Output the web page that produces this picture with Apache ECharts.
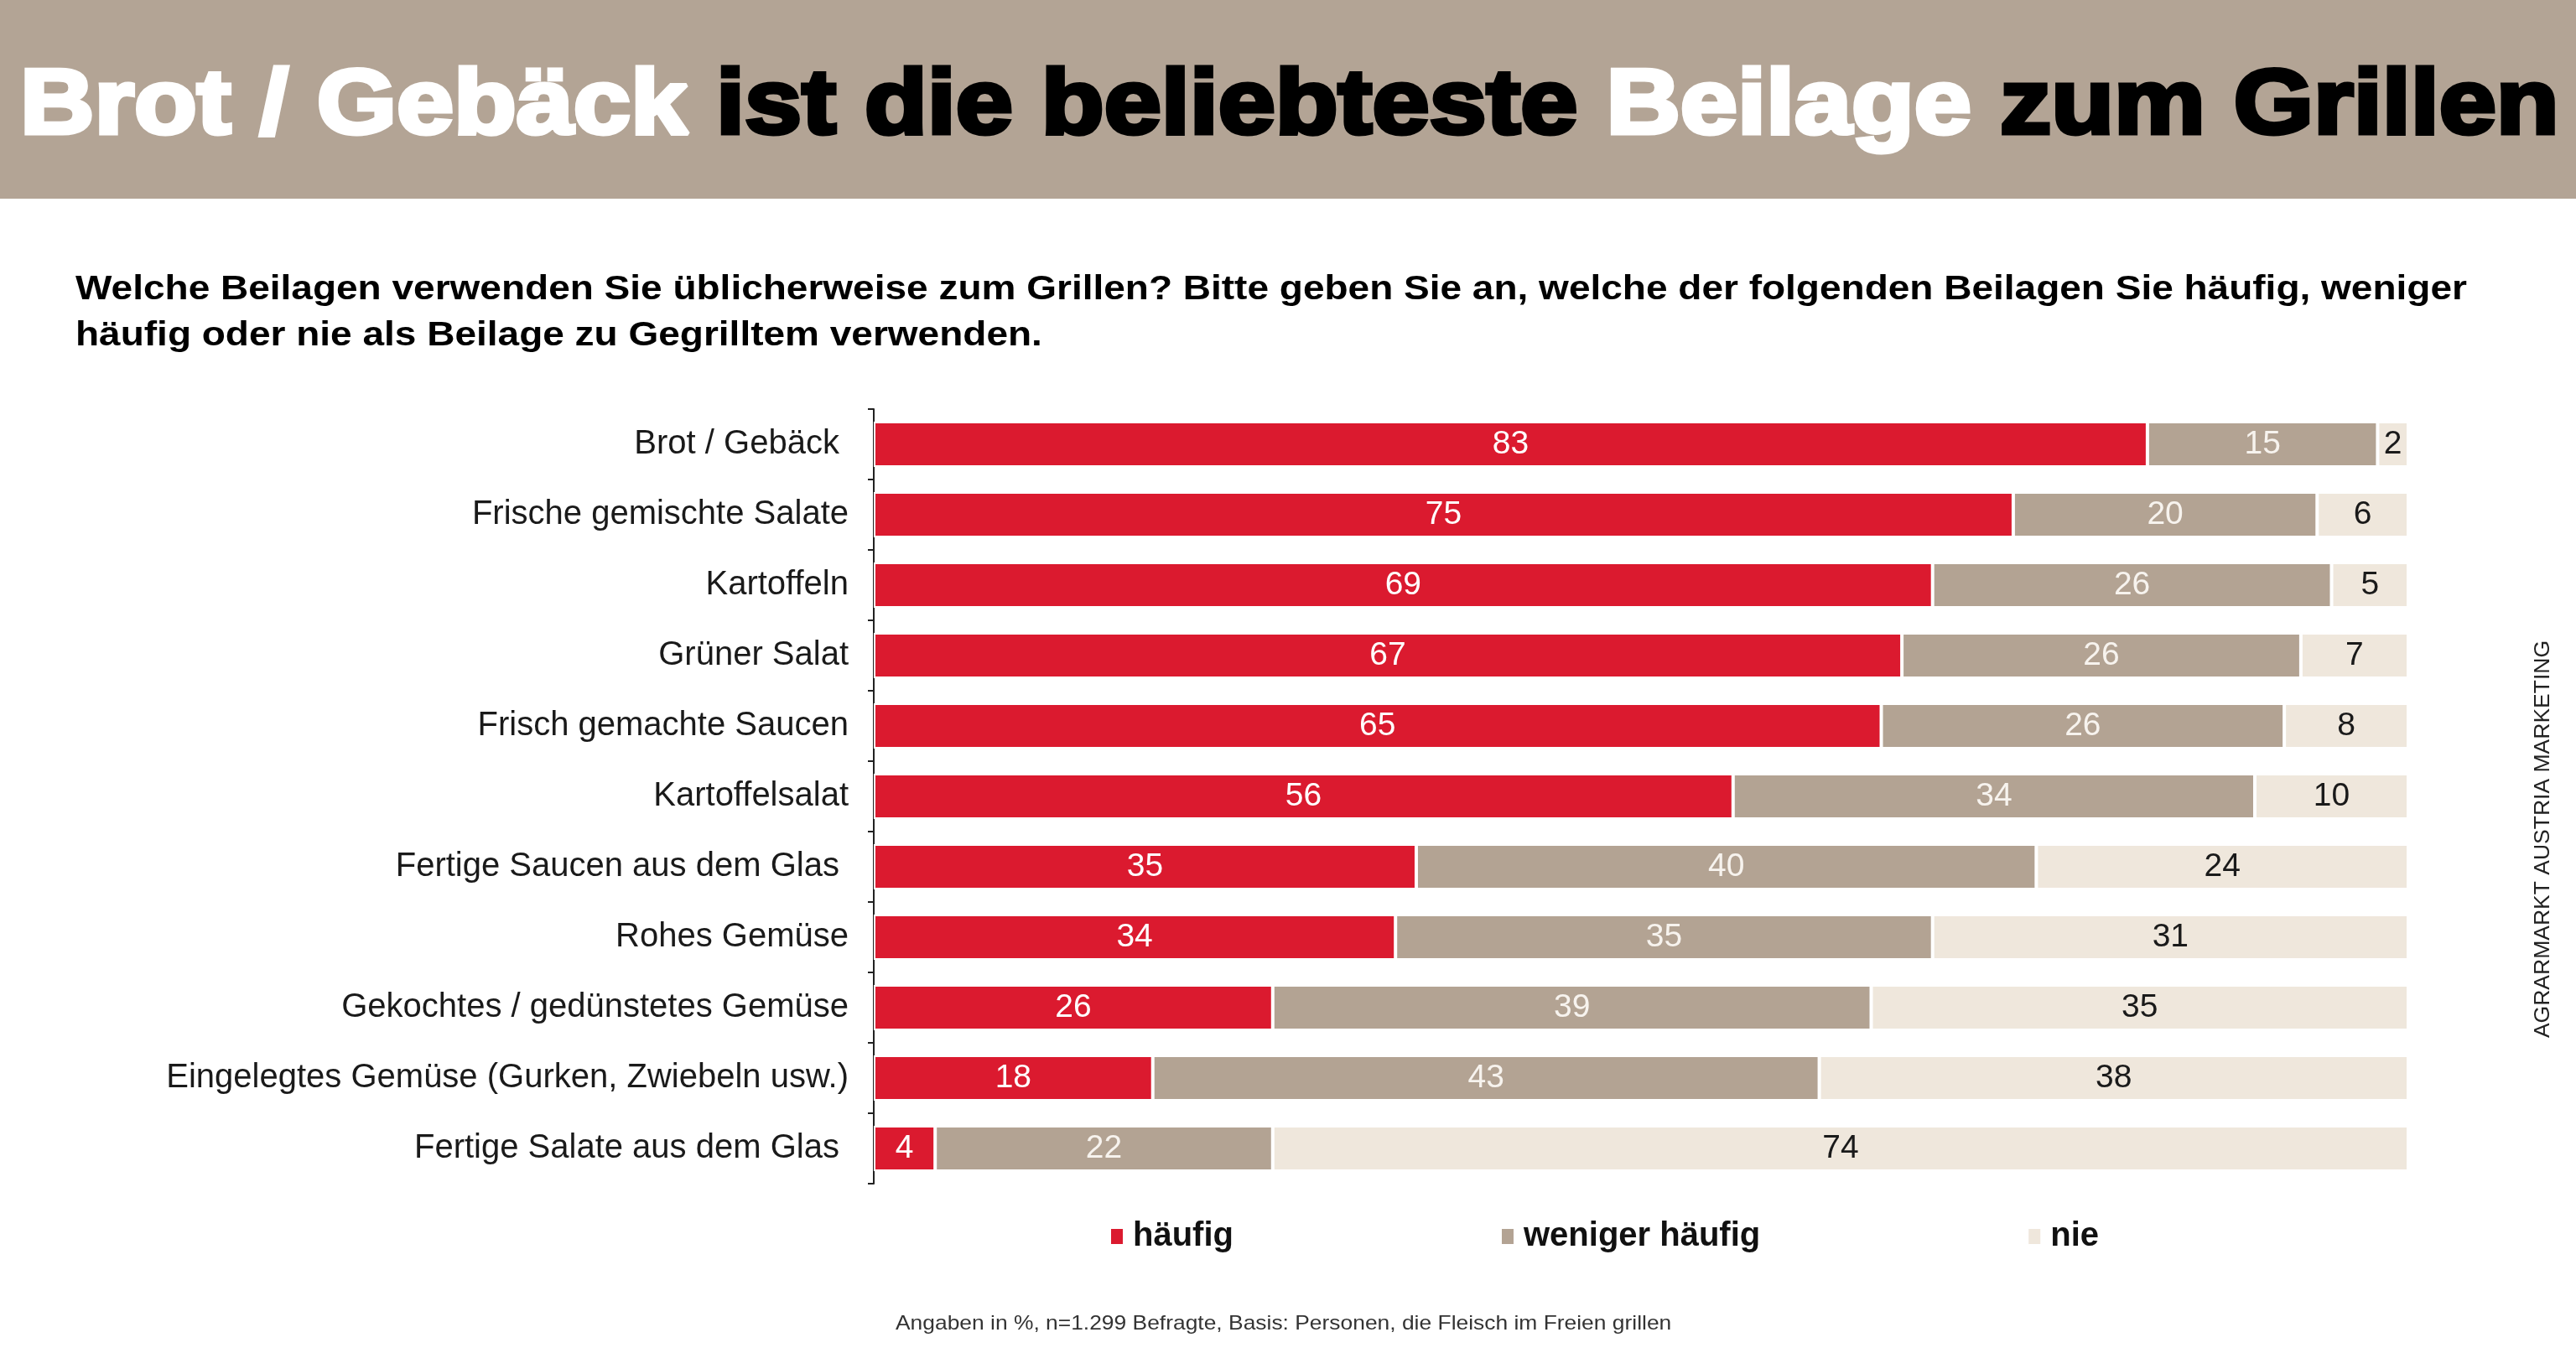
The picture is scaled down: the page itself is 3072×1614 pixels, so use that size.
<!DOCTYPE html>
<html>
<head>
<meta charset="utf-8">
<script src="https://cdn.jsdelivr.net/npm/echarts@6/dist/echarts.min.js"></script>
<style>
html,body{margin:0;padding:0;background:#fff}
#chart{width:3072px;height:1614px}
</style>
</head>
<body>
<div id="chart"></div>
<script>
// Beilagen (trailing spaces as in the original labels)
const categories=['Brot / Gebäck ','Frische gemischte Salate','Kartoffeln','Grüner Salat','Frisch gemachte Saucen','Kartoffelsalat','Fertige Saucen aus dem Glas ','Rohes Gemüse','Gekochtes / gedünstetes Gemüse','Eingelegtes Gemüse (Gurken, Zwiebeln usw.)','Fertige Salate aus dem Glas ']
const haeufig=[83,75,69,67,65,56,35,34,26,18,4]
const wenigerHaeufig=[15,20,26,26,26,34,40,35,39,43,22]
const nie=[2,6,5,7,8,10,24,31,35,38,74]
const seriesNames=['häufig','weniger häufig','nie']
const colors=['#db1a2f','#b3a393','#efe7dc']
const labelColors=['#ffffff','#f7f3ee','#1a1a1a']

const font="'Liberation Sans', Arial, sans-serif"

// bars are drawn as 100% stacked, labels keep the survey values
const totals=haeufig.map((v,i)=>v+wenigerHaeufig[i]+nie[i])
function toData(arr){
  return arr.map((v,i)=>({value:v/totals[i]*100,raw:v}))
}

const myChart=echarts.init(document.querySelector('#chart'))
const option={
  backgroundColor:'#fff',
  animation:false,
  color:colors,
  graphic:[
    {type:'rect',z:-10,shape:{x:0,y:0,width:3072,height:237},style:{fill:'#b3a495'}},
    // headline, stretched a bit wider like the original
    {
      type:'text',
      x:24,y:129,scaleX:1.113,
      style:{
        text:'{w|Brot / Gebäck} {k|ist die beliebteste} {w|Beilage} {k|zum Grillen}',
        fontFamily:font,fontSize:110,fontWeight:'bold',fill:'#000',
        verticalAlign:'middle',align:'left',
        rich:{
          w:{fontFamily:font,fontSize:110,fontWeight:'bold',fill:'#fff',stroke:'#fff',lineWidth:5},
          k:{fontFamily:font,fontSize:110,fontWeight:'bold',fill:'#000',stroke:'#000',lineWidth:5}
        }
      }
    },
    {
      type:'text',
      x:90,y:318,scaleX:1.15,
      style:{
        text:'Welche Beilagen verwenden Sie üblicherweise zum Grillen? Bitte geben Sie an, welche der folgenden Beilagen Sie häufig, weniger\nhäufig oder nie als Beilage zu Gegrilltem verwenden.',
        fontFamily:font,fontSize:40,fontWeight:'bold',fill:'#000',lineHeight:55,
        verticalAlign:'top',align:'left'
      }
    },
    {
      type:'text',
      x:1068,y:1579,scaleX:1.1,
      style:{
        text:'Angaben in %, n=1.299 Befragte, Basis: Personen, die Fleisch im Freien grillen',
        fontFamily:font,fontSize:24,fill:'#333',verticalAlign:'middle',align:'left'
      }
    },
    {
      type:'text',
      x:3033,y:1001,
      rotation:Math.PI/2,
      style:{text:'AGRARMARKT AUSTRIA MARKETING',fontFamily:font,fontSize:26.5,fill:'#222',align:'center',verticalAlign:'middle'}
    }
  ],
  legend:{
    data:seriesNames,
    left:1318,
    top:1450,
    itemGap:318,
    itemWidth:16,
    itemHeight:20,
    icon:'rect',
    textStyle:{fontFamily:font,fontSize:40,fontWeight:'bold',color:'#111',padding:[0,0,0,6]}
  },
  grid:{left:1042,right:200,top:488,bottom:202,containLabel:false},
  xAxis:{type:'value',min:0,max:100,show:false},
  yAxis:{
    type:'category',
    inverse:true,
    data:categories,
    axisLine:{show:true,lineStyle:{color:'#222',width:2}},
    axisTick:{show:true,length:7,lineStyle:{color:'#222',width:2}},
    axisLabel:{fontFamily:font,fontSize:40,color:'#1a1a1a',margin:30}
  },
  series:[haeufig,wenigerHaeufig,nie].map((arr,k)=>({
    name:seriesNames[k],
    type:'bar',
    stack:'total',
    barWidth:54,
    data:toData(arr),
    itemStyle:{color:colors[k],borderColor:'#fff',borderWidth:2},
    label:{
      show:true,
      position:'inside',
      fontFamily:font,
      fontSize:39,
      color:labelColors[k],
      formatter:p=>p.data.raw
    }
  }))
}
myChart.setOption(option)
</script>
</body>
</html>
